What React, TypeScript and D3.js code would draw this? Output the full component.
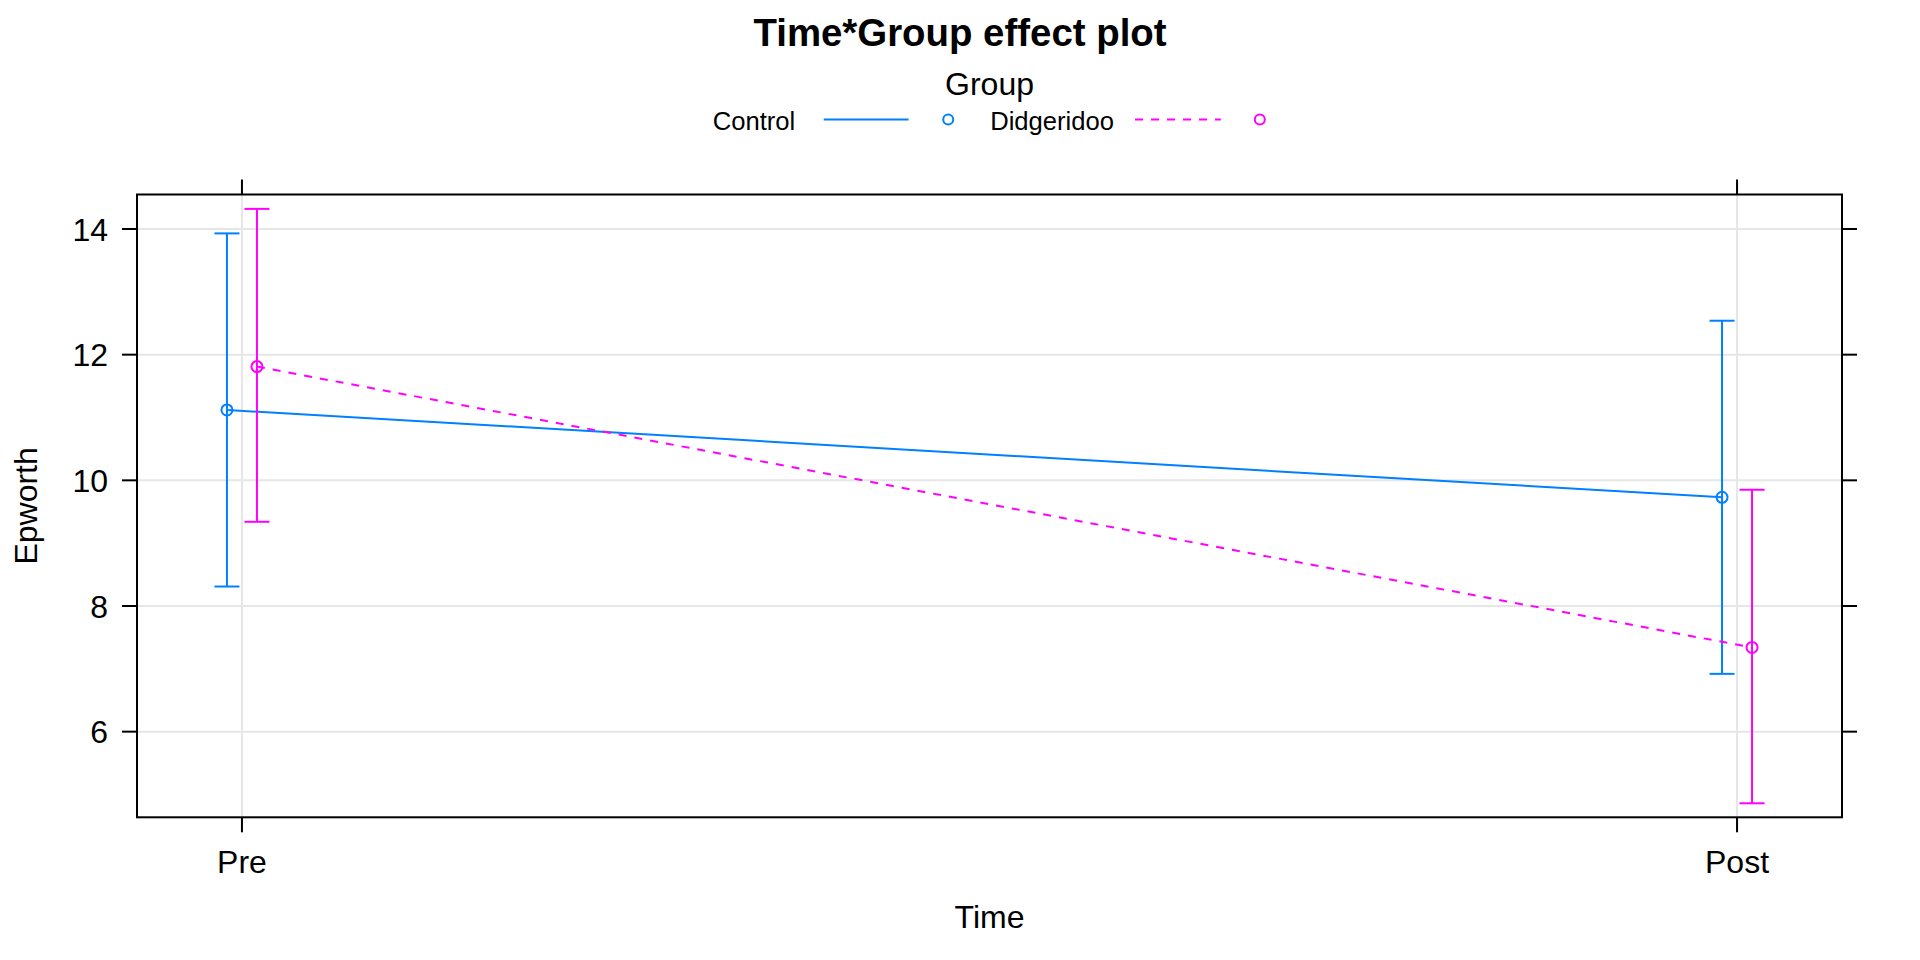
import React from "react";
import * as d3 from "d3";

const times = ["Pre", "Post"];
const groups = ["Control", "Didgeridoo"];
const controlFit = [11.12, 9.73];
const controlLower = [8.31, 6.92];
const controlUpper = [13.93, 12.54];
const didgFit = [11.81, 7.34];
const didgLower = [9.34, 4.86];
const didgUpper = [14.32, 9.85];
const yTicks = [6, 8, 10, 12, 14];

const colors = ["#0080FF", "#FF00FF"];
const dashes = [null, "8,8"];
const FONT = "'Liberation Sans', Arial, Helvetica, sans-serif";

export default function App() {
  const W = 1920, H = 960;
  const left = 137, right = 1842, top = 194.5, bottom = 817.3;
  const x = d3.scalePoint<string>().domain(times).range([left, right]).padding(0.0702);
  const y = d3.scaleLinear().domain([4.637, 14.549]).range([bottom, top]);
  const dodge = 15;
  const capHalf = 12.5;
  const tickLen = 15;

  const series = [
    { name: groups[0], fit: controlFit, lo: controlLower, hi: controlUpper, off: -dodge },
    { name: groups[1], fit: didgFit, lo: didgLower, hi: didgUpper, off: dodge },
  ];

  const lineGen = d3.line<[number, number]>().x((d) => d[0]).y((d) => d[1]);
  const cx = (left + right) / 2;
  const cy = (top + bottom) / 2;

  return (
    <div style={{ position: "absolute", left: 0, top: 0 }}>
      <svg width={W} height={H} style={{ display: "block", background: "#fff" }} fontFamily={FONT}>
        {/* gridlines */}
        <g stroke="#E6E6E6" strokeWidth={2}>
          {yTicks.map((t) => (
            <line key={"gy" + t} x1={left} x2={right} y1={y(t)} y2={y(t)} />
          ))}
          {times.map((t) => (
            <line key={"gx" + t} x1={x(t)} x2={x(t)} y1={top} y2={bottom} />
          ))}
        </g>

        {/* series */}
        {series.map((s, i) => {
          const pts: [number, number][] = times.map((t, j) => [(x(t) as number) + s.off, y(s.fit[j])]);
          return (
            <g key={s.name} stroke={colors[i]} strokeWidth={2} fill="none">
              <path d={lineGen(pts) || ""} strokeDasharray={dashes[i] || undefined} />
              {times.map((t, j) => {
                const px = (x(t) as number) + s.off;
                return (
                  <g key={t}>
                    <line x1={px} x2={px} y1={y(s.lo[j])} y2={y(s.hi[j])} />
                    <line x1={px - capHalf} x2={px + capHalf} y1={y(s.hi[j])} y2={y(s.hi[j])} />
                    <line x1={px - capHalf} x2={px + capHalf} y1={y(s.lo[j])} y2={y(s.lo[j])} />
                    <circle cx={px} cy={y(s.fit[j])} r={5.5} />
                  </g>
                );
              })}
            </g>
          );
        })}

        {/* panel border */}
        <rect x={left} y={top} width={right - left} height={bottom - top} fill="none" stroke="#000" strokeWidth={2} />

        {/* ticks */}
        <g stroke="#000" strokeWidth={2}>
          {yTicks.map((t) => (
            <g key={"ty" + t}>
              <line x1={left - tickLen} x2={left} y1={y(t)} y2={y(t)} />
              <line x1={right} x2={right + tickLen} y1={y(t)} y2={y(t)} />
            </g>
          ))}
          {times.map((t) => (
            <g key={"tx" + t}>
              <line x1={x(t)} x2={x(t)} y1={bottom} y2={bottom + tickLen} />
              <line x1={x(t)} x2={x(t)} y1={top - tickLen} y2={top} />
            </g>
          ))}
        </g>

        {/* tick labels */}
        <g fontSize={32} fill="#000">
          {yTicks.map((t) => (
            <text key={"ly" + t} x={108} y={y(t)} dy="0.36em" textAnchor="end">
              {t}
            </text>
          ))}
          {times.map((t) => (
            <text key={"lx" + t} x={x(t)} y={873} textAnchor="middle">
              {t}
            </text>
          ))}
          <text x={cx} y={928} textAnchor="middle">Time</text>
          <text transform={`translate(37,${cy}) rotate(-90)`} textAnchor="middle">Epworth</text>
        </g>

        {/* title */}
        <text x={W / 2} y={46} textAnchor="middle" fontSize={38.4} fontWeight="bold">
          Time*Group effect plot
        </text>

        {/* legend */}
        <text x={cx} y={95} textAnchor="middle" fontSize={32}>Group</text>
        <g fontSize={25.6}>
          <text x={712.7} y={130}>{groups[0]}</text>
          <line x1={823.7} x2={908.6} y1={119.5} y2={119.5} stroke={colors[0]} strokeWidth={2} />
          <circle cx={948.2} cy={119.5} r={5} fill="none" stroke={colors[0]} strokeWidth={2} />
          <text x={990.2} y={130}>{groups[1]}</text>
          <line x1={1135} x2={1220.8} y1={119.5} y2={119.5} stroke={colors[1]} strokeWidth={2} strokeDasharray="8,8" />
          <circle cx={1259.8} cy={119.5} r={5} fill="none" stroke={colors[1]} strokeWidth={2} />
        </g>
      </svg>
    </div>
  );
}
